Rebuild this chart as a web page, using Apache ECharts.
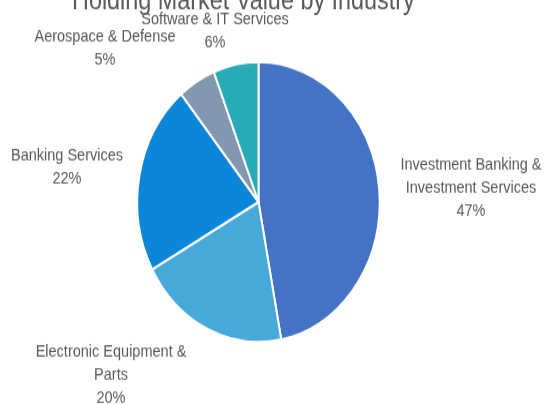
<!DOCTYPE html>
<html>
<head>
<meta charset="utf-8">
<script src="https://cdn.jsdelivr.net/npm/echarts@6/dist/echarts.min.js"></script>
<style>
  html, body { margin: 0; padding: 0; background: #fff; overflow: hidden; }
  #wrap { width: 551px; height: 404px; overflow: hidden; }
  /* chart is drawn at 551x350 and stretched vertically to fill the frame */
  #chart { width: 551px; height: 350px; transform: scaleY(1.1543); transform-origin: 0 0; }
</style>
</head>
<body>
<div id="wrap"><div id="chart"></div></div>
<script>
// Holding market value share by industry (percent)
const industries = [
  'Investment Banking & Investment Services',
  'Electronic Equipment & Parts',
  'Banking Services',
  'Aerospace & Defense',
  'Software & IT Services'
];
const shares = [47, 20, 22, 5, 6];
const sliceColors = ['#4472C4', '#47A8DA', '#0C86D8', '#8497B0', '#27ABB6'];

// label anchor points (block centres) for each slice, in chart pixels
const labelAnchors = [
  [471, 163],
  [111, 325],
  [67, 145],
  [105, 42],
  [215, 27]
];

// wrap long names onto two lines, breaking at the last space within 22 chars
function wrapName(name) {
  if (name.length <= 24) return name;
  const cut = name.lastIndexOf(' ', 22);
  return name.slice(0, cut) + '\n' + name.slice(cut + 1);
}

const chart = echarts.init(document.getElementById('chart'), null, { renderer: 'canvas' });

chart.setOption({
  animation: false,
  backgroundColor: '#ffffff',
  title: {
    text: 'Holding Market Value by Industry',
    left: 67,
    top: -15,
    textStyle: {
      fontFamily: 'Liberation Sans',
      fontSize: 23.4,
      fontWeight: 'normal',
      color: '#595959'
    }
  },
  series: [{
    type: 'pie',
    center: [258.5, 175],
    radius: 121.25,
    startAngle: 90,
    clockwise: true,
    percentPrecision: 0,
    itemStyle: { borderColor: '#ffffff', borderWidth: 2 },
    label: {
      show: true,
      position: 'outside',
      formatter: p => wrapName(p.name) + '\n' + p.percent + '%',
      fontFamily: 'Liberation Sans',
      fontSize: 14.5,
      lineHeight: 20.3,
      color: '#595959',
      align: 'center',
      overflow: 'none'
    },
    labelLine: { show: false },
    labelLayout: p => ({
      x: labelAnchors[p.dataIndex][0],
      y: labelAnchors[p.dataIndex][1],
      align: 'center',
      verticalAlign: 'middle'
    }),
    emphasis: { disabled: true },
    data: industries.map((name, i) => ({
      name: name,
      value: shares[i],
      itemStyle: { color: sliceColors[i] }
    }))
  }]
});
</script>
</body>
</html>
